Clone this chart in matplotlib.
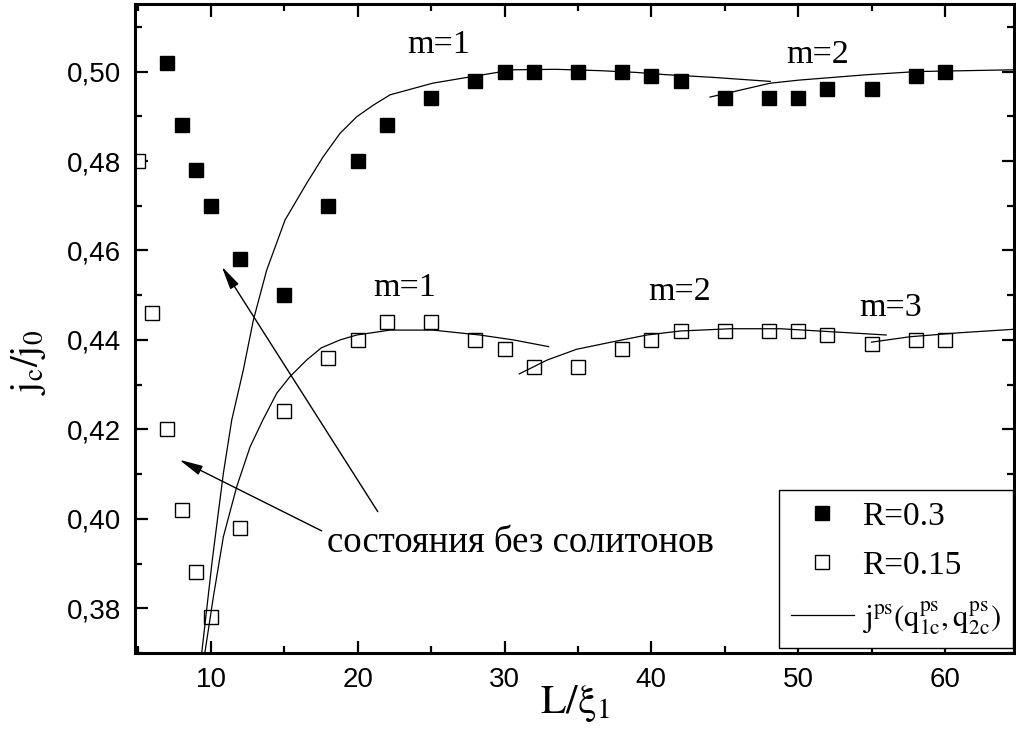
import numpy as np
import matplotlib.pyplot as plt
from matplotlib.ticker import MultipleLocator, FuncFormatter

plt.rcParams['font.family'] = ['Liberation Serif', 'DejaVu Serif']
plt.rcParams['mathtext.fontset'] = 'stix'

# simulation points, R = 0.3
L_a = [7, 8, 9, 10, 12, 15, 18, 20, 22, 25, 28, 30, 32, 35, 38, 40, 42, 45, 48, 50, 52, 55, 58, 60]
jc_a = [0.502, 0.488, 0.478, 0.470, 0.458, 0.450, 0.470, 0.480, 0.488, 0.494, 0.498, 0.500,
        0.500, 0.500, 0.500, 0.499, 0.498, 0.494, 0.494, 0.494, 0.496, 0.496, 0.499, 0.500]

# simulation points, R = 0.15
L_b = [5, 6, 7, 8, 9, 10, 12, 15, 18, 20, 22, 25, 28, 30, 32, 35, 38, 40, 42, 45, 48, 50, 52, 55, 58, 60]
jc_b = [0.480, 0.446, 0.420, 0.402, 0.388, 0.378, 0.398, 0.424, 0.436, 0.440, 0.444, 0.444, 0.440,
        0.438, 0.434, 0.434, 0.438, 0.440, 0.442, 0.442, 0.442, 0.442, 0.441, 0.439, 0.440, 0.440]

# phase-slip branches j^ps(q1c, q2c)
ps_a1_x = [9.37, 10.1, 10.84, 11.41, 12.20, 12.88, 13.79, 15.04, 16.51, 17.65, 18.79, 19.93,
           21.06, 22.2, 25.1, 28.0, 30.6, 33.5, 36.5, 39.0, 41.0, 44.2, 48.1]
ps_a1_y = [0.3702, 0.3912, 0.4102, 0.4221, 0.4333, 0.4444, 0.4556, 0.4668, 0.4750, 0.4810,
           0.4862, 0.4899, 0.4925, 0.4948, 0.4974, 0.4990, 0.5004, 0.5005, 0.5002, 0.4998,
           0.4993, 0.4987, 0.4978]
ps_a2_x = [44.0, 45.6, 48.1, 50.1, 54.7, 58.1, 64.8]
ps_a2_y = [0.4943, 0.4955, 0.4974, 0.4981, 0.4993, 0.5000, 0.5004]

ps_b1_x = [9.59, 10.16, 10.84, 11.75, 12.66, 13.56, 14.48, 15.38, 16.51, 17.5, 18.79, 19.93,
           22.2, 25.1, 28.3, 30.6, 33.0]
ps_b1_y = [0.3703, 0.3826, 0.3960, 0.4072, 0.4161, 0.4223, 0.4281, 0.4318, 0.4355, 0.4382,
           0.4400, 0.4411, 0.4422, 0.4422, 0.4411, 0.4400, 0.4385]
ps_b2_x = [31.0, 32.9, 34.9, 37.4, 39.7, 42.0, 45.4, 48.8, 51.9, 56.0]
ps_b2_y = [0.4324, 0.4355, 0.4379, 0.4396, 0.4411, 0.4420, 0.4425, 0.4425, 0.4419, 0.4411]
ps_b3_x = [55.0, 57.6, 61.0, 64.8]
ps_b3_y = [0.4395, 0.4407, 0.4416, 0.4424]

fig = plt.figure(figsize=(10.16, 7.31), dpi=100)
ax = fig.add_axes([0.1329, 0.1067, 0.865, 0.8878])

ax.plot(L_a, jc_a, 's', color='k', ms=9.5, label='R=0.3')
ax.plot(L_b, jc_b, 's', mfc='white', mec='k', mew=1.0, ms=9.5, label='R=0.15')
for i, (xs, ys) in enumerate([(ps_a1_x, ps_a1_y), (ps_a2_x, ps_a2_y), (ps_b1_x, ps_b1_y),
                              (ps_b2_x, ps_b2_y), (ps_b3_x, ps_b3_y)]):
    ax.plot(xs, ys, '-', color='k', lw=0.9,
            label=r'$\mathrm{j^{ps}(q^{ps}_{1c},q^{ps}_{2c})}$' if i == 0 else None)

ax.set_xlim(4.82, 64.7)
ax.set_ylim(0.37, 0.5151)

ax.xaxis.set_major_locator(MultipleLocator(10))
ax.xaxis.set_minor_locator(MultipleLocator(5))
ax.yaxis.set_major_locator(MultipleLocator(0.02))
ax.yaxis.set_minor_locator(MultipleLocator(0.01))
ax.yaxis.set_major_formatter(FuncFormatter(lambda v, p: f'{v:.2f}'.replace('.', ',')))

ax.tick_params(which='both', direction='in', top=True, right=True, width=1.6,
               labelsize=20, pad=10)
ax.tick_params(which='major', length=9)
ax.tick_params(which='minor', length=5)
for lab in ax.get_xticklabels() + ax.get_yticklabels():
    lab.set_fontfamily('Liberation Sans')
for s in ax.spines.values():
    s.set_linewidth(2.2)

ax.set_xlabel(r'$\mathrm{L/\xi_1}$', fontsize=30, labelpad=-7)
ax.set_ylabel(r'$\mathrm{j_c/j_0}$', fontsize=28)
ax.yaxis.set_label_coords(-0.099, 0.448)

# branch labels
ax.text(25.5, 0.5060, 'm=1', fontsize=24.5, ha='center', va='center')
ax.text(51.3, 0.5037, 'm=2', fontsize=24.5, ha='center', va='center')
ax.text(23.2, 0.4516, 'm=1', fontsize=24.5, ha='center', va='center')
ax.text(41.9, 0.4507, 'm=2', fontsize=24.5, ha='center', va='center')
ax.text(56.3, 0.4471, 'm=3', fontsize=24.5, ha='center', va='center')

ax.text(17.9, 0.3946, 'состояния без солитонов', fontsize=26.5, ha='left', va='center')
arrow = dict(arrowstyle='-|>,head_length=0.95,head_width=0.2', color='k', lw=1,
             mutation_scale=15, shrinkA=0, shrinkB=0)
ax.annotate('', xy=(10.73, 0.4564), xytext=(21.36, 0.4016), arrowprops=arrow)
ax.annotate('', xy=(7.84, 0.4132), xytext=(17.54, 0.3973), arrowprops=arrow)

leg = ax.legend(loc='lower right', bbox_to_anchor=(0.999, 0.007), fontsize=24,
                frameon=True, fancybox=False, edgecolor='k', framealpha=1,
                handlelength=1.9, handletextpad=0.25, borderpad=0.35, labelspacing=0.55,
                borderaxespad=0)
leg.get_frame().set_linewidth(1.0)
leg.get_texts()[2].set_fontsize(22)

fig.savefig('out.png', dpi=100)
